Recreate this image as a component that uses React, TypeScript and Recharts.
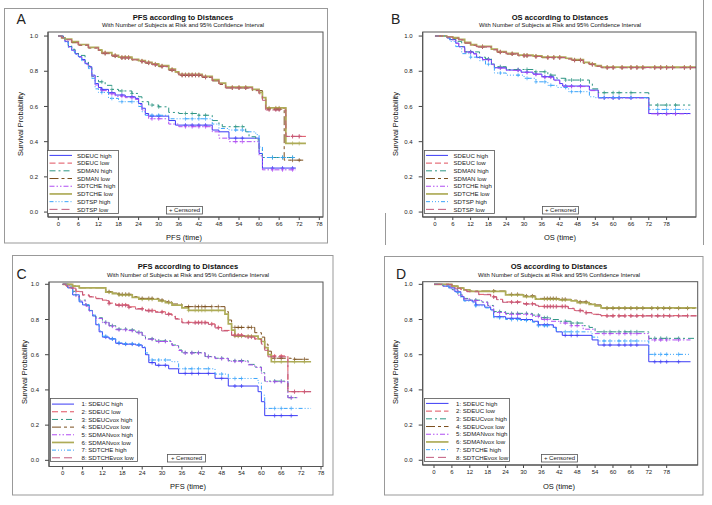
import React from "react";
import { LineChart, Line, XAxis, YAxis } from "recharts";

// ---- tick labels ----
const X_TICKS = [0, 6, 12, 18, 24, 30, 36, 42, 48, 54, 60, 66, 72, 78];
const Y_TICKS = [0, 0.2, 0.4, 0.6, 0.8, 1.0];

// ---- legend names ----
const NAMES_AB = ["SDEUC high", "SDEUC low", "SDMAN high", "SDMAN low", "SDTCHE high", "SDTCHE low", "SDTSP high", "SDTSP low"];
const NAMES_CD = ["1: SDEUC high", "2: SDEUC low", "3: SDEUCvox high", "4: SDEUCvox low", "5: SDMANvox high", "6: SDMANvox low", "7: SDTCHE high", "8: SDTCHEvox low"];

// ---- panel A (PFS) : [time, survival] steps ----
const A_EUC_HIGH = [[0,1],[1.5,0.99],[2,0.97],[3,0.94],[4,0.92],[5,0.9],[6,0.883],[7,0.867],[8,0.845],[9,0.826],[10,0.778],[11,0.73],[12,0.708],[13,0.697],[15,0.678],[17,0.665],[20,0.655],[23,0.646],[24,0.617],[25,0.59],[26,0.56],[27,0.545],[33,0.52],[35,0.494],[46,0.466],[48,0.456],[51,0.42],[60,0.333],[61,0.25],[71,0.25]];
const A_EUC_LOW = [[0,1],[1,0.99],[2,0.98],[4,0.965],[6,0.95],[9,0.935],[12,0.92],[13,0.905],[16,0.89],[18,0.879],[22,0.867],[24,0.858],[26,0.85],[28,0.84],[30,0.83],[33,0.81],[35,0.795],[36,0.78],[43,0.769],[46,0.75],[48,0.73],[50,0.708],[58,0.695],[60,0.675],[61,0.64],[62,0.589],[68,0.43],[74,0.43]];
const A_MAN_HIGH = [[0,1],[1.5,0.99],[2,0.97],[3,0.945],[4,0.925],[5,0.905],[6,0.89],[8,0.855],[9,0.83],[10,0.77],[12,0.74],[14,0.72],[16,0.697],[18,0.688],[22,0.674],[24,0.655],[25,0.627],[27,0.608],[30,0.598],[33,0.566],[36,0.56],[42,0.55],[46,0.52],[48,0.5],[49,0.485],[56,0.456],[57,0.428],[59,0.41],[60,0.36],[61,0.31],[71,0.31]];
const A_MAN_LOW = [[0,1],[1,0.99],[2,0.98],[4,0.962],[6,0.948],[9,0.932],[12,0.918],[13,0.9],[16,0.886],[18,0.876],[22,0.864],[24,0.855],[26,0.846],[28,0.836],[30,0.826],[33,0.806],[35,0.79],[36,0.776],[43,0.765],[46,0.745],[48,0.725],[50,0.705],[58,0.69],[61,0.645],[62,0.585],[67.5,0.295],[74,0.295]];
const A_TCHE_HIGH = [[0,1],[1.5,0.99],[2,0.968],[3,0.938],[4,0.918],[5,0.898],[6,0.88],[7,0.862],[8,0.84],[9,0.82],[10,0.772],[11,0.722],[12,0.7],[13,0.69],[15,0.672],[17,0.658],[20,0.65],[23,0.64],[24,0.61],[25,0.58],[26,0.55],[27,0.53],[33,0.5],[36,0.485],[46,0.456],[48,0.42],[51,0.4],[60,0.32],[61,0.24],[71,0.24]];
const A_TCHE_LOW = [[0,1],[1,0.99],[2,0.982],[4,0.968],[6,0.952],[9,0.936],[12,0.921],[13,0.906],[16,0.891],[18,0.88],[22,0.868],[24,0.86],[26,0.851],[28,0.842],[30,0.832],[33,0.812],[35,0.797],[36,0.782],[43,0.771],[46,0.752],[48,0.732],[50,0.71],[58,0.697],[60,0.68],[61,0.65],[62,0.592],[68,0.39],[74,0.39]];
const A_TSP_HIGH = [[0,1],[1.5,0.99],[2,0.965],[3,0.935],[4,0.915],[5,0.895],[6,0.88],[7,0.86],[8,0.84],[9,0.815],[10,0.76],[11,0.7],[12,0.68],[15,0.646],[18,0.627],[24,0.6],[25,0.57],[26,0.55],[33,0.53],[46,0.5],[48,0.475],[51,0.466],[56,0.456],[59,0.44],[60,0.37],[61,0.31],[71,0.31]];
const A_TSP_LOW = [[0,1],[1,0.99],[2,0.979],[4,0.964],[6,0.949],[9,0.933],[12,0.919],[13,0.903],[16,0.888],[18,0.877],[22,0.865],[24,0.856],[26,0.848],[28,0.838],[30,0.828],[33,0.808],[35,0.793],[36,0.779],[43,0.767],[46,0.748],[48,0.728],[50,0.706],[58,0.692],[60,0.672],[61,0.635],[62,0.58],[68,0.43],[74,0.43]];
const A_CENS_LOW = [14,17,19,20,21,25,27,29,31,34,37,38,39,40,41,42,44,52,54,56,63,65,66,70,72];
const A_CENS_HIGH = [13,16,19,22,28,30,38,40,42,44,53,55,64,67,70];

// ---- panel B (OS) ----
const B_EUC_HIGH = [[0,1],[4,0.99],[5,0.98],[7,0.96],[8,0.94],[10,0.91],[13,0.9],[14,0.879],[16,0.867],[19,0.84],[20,0.82],[24,0.807],[29,0.795],[33,0.784],[36,0.769],[40,0.75],[42,0.73],[43,0.716],[52,0.693],[55,0.65],[72,0.56],[86,0.56]];
const B_EUC_LOW = [[0,1],[4,0.995],[6,0.99],[8,0.98],[10,0.962],[12,0.949],[14,0.94],[19,0.924],[21,0.91],[24,0.9],[28,0.89],[33,0.885],[36,0.879],[44,0.872],[46,0.864],[50,0.848],[52,0.84],[54,0.83],[56,0.822],[88,0.822]];
const B_MAN_HIGH = [[0,1],[4,0.99],[5,0.98],[7,0.97],[9,0.94],[10,0.91],[15,0.88],[17,0.87],[19,0.84],[20,0.826],[24,0.81],[33,0.797],[38,0.778],[41,0.76],[44,0.75],[52,0.73],[53,0.7],[55,0.678],[72,0.608],[86,0.608]];
const B_MAN_LOW = [[0,1],[4,0.995],[6,0.988],[8,0.978],[10,0.96],[12,0.947],[14,0.938],[19,0.922],[21,0.908],[24,0.898],[28,0.888],[33,0.883],[36,0.877],[44,0.87],[46,0.862],[50,0.846],[52,0.838],[54,0.828],[56,0.82],[88,0.82]];
const B_TCHE_HIGH = [[0,1],[4,0.99],[5,0.978],[7,0.958],[8,0.938],[10,0.908],[13,0.898],[14,0.877],[16,0.865],[19,0.838],[20,0.818],[24,0.805],[29,0.793],[33,0.782],[36,0.766],[40,0.747],[42,0.728],[43,0.713],[52,0.69],[55,0.648],[72,0.558],[86,0.558]];
const B_TCHE_LOW = [[0,1],[4,0.996],[6,0.991],[8,0.981],[10,0.964],[12,0.951],[14,0.942],[19,0.926],[21,0.912],[24,0.902],[28,0.892],[33,0.887],[36,0.881],[44,0.874],[46,0.866],[50,0.85],[52,0.842],[54,0.832],[56,0.824],[88,0.824]];
const B_TSP_HIGH = [[0,1],[4,0.99],[5,0.97],[7,0.94],[9,0.9],[12,0.88],[15,0.86],[17,0.84],[20,0.79],[24,0.778],[30,0.76],[34,0.74],[38,0.72],[41,0.708],[45,0.684],[52,0.655],[54,0.65],[72,0.583],[86,0.583]];
const B_TSP_LOW = [[0,1],[4,0.994],[6,0.989],[8,0.979],[10,0.961],[12,0.948],[14,0.939],[19,0.923],[21,0.909],[24,0.899],[28,0.889],[33,0.884],[36,0.878],[44,0.871],[46,0.863],[50,0.847],[52,0.839],[54,0.829],[56,0.821],[88,0.821]];
const B_CENS_LOW = [16,22,26,30,31,34,38,40,42,47,49,53,58,60,63,66,68,70,74,76,78,80,84,86];
const B_CENS_HIGH = [12,18,22,28,31,34,37,39,44,46,49,57,60,62,66,75,78,81];

// ---- panel C (PFS) ----
const C_1 = [[0,1],[1.5,0.98],[3,0.94],[5,0.9],[6,0.883],[8,0.85],[9,0.82],[10,0.77],[11,0.73],[12,0.7],[14,0.69],[16,0.665],[18,0.66],[22,0.655],[24,0.64],[25,0.6],[26,0.555],[28,0.54],[32,0.52],[35,0.494],[46,0.466],[50,0.422],[59,0.39],[60,0.333],[61,0.254],[71,0.254]];
const C_2 = [[0,1],[1,0.99],[2,0.98],[4,0.96],[6,0.94],[8,0.93],[10,0.92],[12,0.91],[14,0.893],[16,0.883],[20,0.872],[22,0.862],[25,0.852],[28,0.844],[31,0.832],[33,0.82],[34,0.805],[36,0.784],[44,0.775],[46,0.755],[48,0.738],[51,0.712],[55,0.703],[58,0.69],[60,0.665],[61,0.63],[62,0.593],[68,0.39],[75,0.39]];
const C_3 = [[0,1],[2,0.99],[3,0.96],[4,0.93],[5,0.91],[7,0.88],[8,0.85],[9,0.825],[10,0.81],[12,0.784],[14,0.765],[16,0.745],[20,0.74],[22,0.728],[24,0.71],[25,0.69],[28,0.678],[33,0.655],[35,0.627],[36,0.612],[43,0.59],[46,0.58],[50,0.566],[56,0.545],[58,0.53],[60,0.498],[61,0.45],[68,0.356],[71,0.356]];
const C_4 = [[0,1],[3,0.99],[5,0.98],[13,0.958],[15,0.95],[17,0.943],[21,0.93],[23,0.92],[29,0.91],[31,0.9],[33,0.888],[36,0.873],[49,0.845],[50,0.797],[51,0.755],[58,0.725],[60,0.7],[61,0.66],[62,0.62],[63,0.58],[69,0.574],[75,0.574]];
const C_5 = [[0,1],[2,0.99],[3,0.955],[4,0.928],[5,0.905],[7,0.875],[8,0.848],[9,0.822],[10,0.806],[12,0.782],[14,0.762],[16,0.742],[20,0.737],[22,0.725],[24,0.707],[25,0.688],[28,0.675],[33,0.652],[35,0.624],[36,0.61],[43,0.588],[46,0.578],[50,0.563],[56,0.542],[58,0.528],[60,0.495],[61,0.447],[68,0.356],[71,0.356]];
const C_6 = [[0,1],[3,0.99],[5,0.98],[13,0.955],[15,0.947],[17,0.94],[21,0.926],[23,0.915],[29,0.905],[31,0.895],[33,0.882],[36,0.866],[38,0.852],[49,0.83],[50,0.775],[51,0.74],[52,0.705],[59,0.69],[60,0.675],[61,0.64],[62,0.6],[63,0.56],[75,0.56]];
const C_7 = [[0,1],[1.5,0.98],[3,0.94],[5,0.9],[6,0.883],[8,0.852],[9,0.825],[10,0.775],[11,0.735],[12,0.705],[14,0.69],[16,0.668],[18,0.662],[22,0.657],[24,0.645],[25,0.61],[26,0.57],[33,0.56],[35,0.52],[46,0.49],[50,0.465],[59,0.44],[60,0.37],[61,0.295],[75,0.295]];
const C_8 = [[0,1],[1,0.99],[2,0.978],[4,0.958],[6,0.938],[8,0.928],[10,0.918],[12,0.907],[14,0.89],[16,0.88],[20,0.869],[22,0.859],[25,0.849],[28,0.841],[31,0.829],[33,0.817],[34,0.802],[36,0.781],[44,0.772],[46,0.752],[48,0.735],[51,0.709],[55,0.7],[58,0.687],[60,0.66],[61,0.625],[62,0.588],[68,0.39],[75,0.39]];
const C_CENS_LOW = [14,17,18,19,20,24,26,27,30,32,38,40,41,42,43,45,47,52,53,54,56,57,64,66,70,73];
const C_CENS_HIGH = [13,15,17,19,21,23,27,29,31,37,39,41,44,48,52,54,64,66,69];

// ---- panel D (OS) ----
const D_1 = [[0,1],[3,0.99],[5,0.98],[7,0.958],[9,0.93],[10,0.91],[13,0.9],[14,0.883],[17,0.87],[19,0.855],[20,0.816],[24,0.807],[29,0.8],[33,0.79],[35,0.77],[40,0.756],[41,0.73],[43,0.71],[53,0.684],[55,0.655],[72,0.56],[86,0.56]];
const D_2 = [[0,1],[6,0.99],[7,0.98],[9,0.97],[11,0.96],[15,0.943],[19,0.93],[21,0.915],[23,0.9],[30,0.89],[34,0.883],[35,0.875],[45,0.864],[47,0.852],[50,0.84],[53,0.83],[56,0.822],[88,0.822]];
const D_3 = [[0,1],[3,0.99],[6,0.97],[8,0.94],[10,0.92],[12,0.91],[16,0.9],[18,0.88],[20,0.845],[24,0.835],[33,0.825],[36,0.81],[39,0.8],[42,0.79],[46,0.78],[50,0.765],[52,0.755],[54,0.73],[72,0.693],[88,0.693]];
const D_4 = [[0,1],[6,0.99],[8,0.98],[10,0.97],[12,0.962],[24,0.943],[30,0.934],[34,0.92],[42,0.915],[46,0.91],[48,0.9],[52,0.89],[54,0.883],[56,0.864],[88,0.864]];
const D_5 = [[0,1],[3,0.99],[6,0.968],[8,0.938],[10,0.918],[12,0.908],[16,0.898],[18,0.876],[20,0.84],[24,0.83],[33,0.818],[36,0.8],[39,0.79],[42,0.78],[46,0.765],[50,0.745],[54,0.72],[72,0.684],[86,0.684]];
const D_6 = [[0,1],[6,0.99],[8,0.978],[10,0.968],[12,0.96],[24,0.94],[30,0.93],[34,0.916],[42,0.912],[46,0.906],[48,0.896],[52,0.886],[54,0.878],[56,0.866],[88,0.866]];
const D_7 = [[0,1],[3,0.99],[5,0.975],[7,0.955],[9,0.925],[10,0.905],[13,0.895],[14,0.878],[17,0.866],[19,0.85],[20,0.81],[24,0.8],[29,0.795],[33,0.785],[35,0.765],[40,0.75],[41,0.73],[53,0.7],[55,0.678],[72,0.602],[86,0.602]];
const D_8 = [[0,1],[6,0.99],[7,0.978],[9,0.968],[11,0.958],[15,0.941],[19,0.928],[21,0.913],[23,0.898],[30,0.888],[34,0.881],[35,0.873],[45,0.862],[47,0.85],[50,0.838],[53,0.828],[56,0.82],[88,0.82]];
const D_CENS_LOW = [20,26,28,31,33,37,38,39,40,41,43,44,49,51,58,60,62,64,66,68,70,73,75,77,79,82,85];
const D_CENS_HIGH = [14,22,26,28,31,35,37,38,44,46,48,57,59,62,64,66,68,74,76,78,82];

// ---- line styles (SAS default group styles) ----
const STYLES = [
  { color: "#3b3bf5", dash: undefined, w: 1 },
  { color: "#e0505e", dash: "6 3", w: 1 },
  { color: "#2e9684", dash: "6 3 2 3", w: 1 },
  { color: "#7a4e1c", dash: "9 3 3 3", w: 1 },
  { color: "#b04cf2", dash: "5 2 1.5 2 1.5 2", w: 1 },
  { color: "#aeac58", dash: undefined, w: 1.7 },
  { color: "#3aa4fb", dash: "4 2 1 2 1 2 1 2", w: 1 },
  { color: "#c25a7c", dash: "8 4", w: 1 },
];

const FONT = "'Liberation Sans', Arial, sans-serif";

type Pt = { t: number; s: number; c: boolean };

function withCensor(steps: number[][], cens: number[]): Pt[] {
  const pts: Pt[] = steps.map(([t, s]) => ({ t, s, c: false }));
  const end = steps[steps.length - 1][0];
  cens.forEach((ct) => {
    if (ct >= end) return;
    let s = 1;
    for (const [t, v] of steps) if (t <= ct) s = v;
    pts.push({ t: ct, s, c: true });
  });
  return pts.sort((a, b) => a.t - b.t || (a.c ? 1 : 0) - (b.c ? 1 : 0));
}

const PANELS = [
  {
    letter: "A", qx: 0, qy: 0, qw: 356, qh: 250,
    plot: { l: 48, r: 323, t: 32, b: 217 }, xd: [-3.08, 79.1], yd: [-0.028, 1.023],
    title: "PFS according to Distances", xlabel: "PFS (time)", names: NAMES_AB,
    series: [
      withCensor(A_EUC_HIGH, A_CENS_HIGH), withCensor(A_EUC_LOW, A_CENS_LOW),
      withCensor(A_MAN_HIGH, A_CENS_HIGH), withCensor(A_MAN_LOW, A_CENS_LOW),
      withCensor(A_TCHE_HIGH, A_CENS_HIGH), withCensor(A_TCHE_LOW, A_CENS_LOW),
      withCensor(A_TSP_HIGH, A_CENS_HIGH), withCensor(A_TSP_LOW, A_CENS_LOW),
    ],
    lt: { x: 16.5, y: 23.5 }, tx: 183, ty: 20, sy: 27.2, yl: { x: 22.5, y: 124 }, xl: { x: 184, y: 240 },
    leg: { x: 47, y: 150, w: 71, h: 63, l1: 49.5, l2: 72, tx: 77, ty: 157.6, dy: 7.71 },
    cb: { x: 166, y: 206, w: 36, h: 7.5 },
  },
  {
    letter: "B", qx: 356, qy: 0, qw: 356, qh: 250,
    plot: { l: 422.7, r: 696, t: 32, b: 217 }, xd: [-4.14, 87.9], yd: [-0.028, 1.023],
    title: "OS according to Distances", xlabel: "OS (time)", names: NAMES_AB,
    series: [
      withCensor(B_EUC_HIGH, B_CENS_HIGH), withCensor(B_EUC_LOW, B_CENS_LOW),
      withCensor(B_MAN_HIGH, B_CENS_HIGH), withCensor(B_MAN_LOW, B_CENS_LOW),
      withCensor(B_TCHE_HIGH, B_CENS_HIGH), withCensor(B_TCHE_LOW, B_CENS_LOW),
      withCensor(B_TSP_HIGH, B_CENS_HIGH), withCensor(B_TSP_LOW, B_CENS_LOW),
    ],
    lt: { x: 391, y: 23.5 }, tx: 560, ty: 20, sy: 27.2, yl: { x: 397.5, y: 124 }, xl: { x: 560, y: 240 },
    leg: { x: 424, y: 150, w: 70, h: 63, l1: 426, l2: 448, tx: 453.5, ty: 157.6, dy: 7.71 },
    cb: { x: 542, y: 206, w: 36, h: 7.5 },
  },
  {
    letter: "C", qx: 0, qy: 250, qw: 356, qh: 255,
    plot: { l: 49, r: 323, t: 282, b: 466.5 }, xd: [-4.14, 78.6], yd: [-0.035, 1.013],
    title: "PFS according to Distances", xlabel: "PFS (time)", names: NAMES_CD,
    series: [
      withCensor(C_1, C_CENS_HIGH), withCensor(C_2, C_CENS_LOW),
      withCensor(C_3, C_CENS_HIGH), withCensor(C_4, C_CENS_LOW),
      withCensor(C_5, C_CENS_HIGH), withCensor(C_6, C_CENS_LOW),
      withCensor(C_7, C_CENS_HIGH), withCensor(C_8, C_CENS_LOW),
    ],
    lt: { x: 16.5, y: 278.5 }, tx: 188, ty: 269, sy: 276.5, yl: { x: 26.5, y: 372 }, xl: { x: 188, y: 489 },
    leg: { x: 50, y: 398, w: 87, h: 63, l1: 52, l2: 74, tx: 81.5, ty: 406.3, dy: 7.67 },
    cb: { x: 167, y: 454, w: 38, h: 7.5 },
  },
  {
    letter: "D", qx: 356, qy: 250, qw: 356, qh: 255,
    plot: { l: 422.7, r: 697.7, t: 281.7, b: 465 }, xd: [-3.79, 88.4], yd: [-0.027, 1.015],
    title: "OS according to Distances", xlabel: "OS (time)", names: NAMES_CD,
    series: [
      withCensor(D_1, D_CENS_HIGH), withCensor(D_2, D_CENS_LOW),
      withCensor(D_3, D_CENS_HIGH), withCensor(D_4, D_CENS_LOW),
      withCensor(D_5, D_CENS_HIGH), withCensor(D_6, D_CENS_LOW),
      withCensor(D_7, D_CENS_HIGH), withCensor(D_8, D_CENS_LOW),
    ],
    lt: { x: 396, y: 278.5 }, tx: 559, ty: 269, sy: 276.5, yl: { x: 397.5, y: 372 }, xl: { x: 559, y: 489 },
    leg: { x: 424, y: 398, w: 85, h: 63, l1: 426, l2: 448.5, tx: 456, ty: 405.6, dy: 7.71 },
    cb: { x: 541, y: 454, w: 36, h: 7.5 },
  },
];

const YW = 30;
const XH = 20;

function censorDot(color: string) {
  return (p: any) => {
    const { cx, cy, payload, index } = p;
    if (!payload || !payload.c || cx == null || cy == null) return <g key={`n${index}`} />;
    return (
      <path key={`c${index}`} d={`M${cx - 1.8},${cy}h3.6M${cx},${cy - 2}v4`} stroke={color} strokeWidth={0.7} fill="none" />
    );
  };
}

function Panel({ cfg }: { cfg: (typeof PANELS)[number] }) {
  const p = cfg.plot;
  const margin = {
    top: p.t - cfg.qy,
    right: cfg.qx + cfg.qw - p.r,
    bottom: cfg.qy + cfg.qh - p.b - XH,
    left: p.l - cfg.qx - YW,
  };
  const tickStyle = { fontSize: 6, fill: "#222", fontFamily: FONT };
  return (
    <div style={{ position: "absolute", left: cfg.qx, top: cfg.qy, width: cfg.qw, height: cfg.qh }}>
      <LineChart width={cfg.qw} height={cfg.qh} margin={margin}>
        <XAxis
          type="number"
          dataKey="t"
          domain={cfg.xd}
          allowDataOverflow
          ticks={X_TICKS}
          interval={0}
          height={XH}
          tick={tickStyle}
          tickSize={3}
          tickMargin={1.5}
          stroke="#444"
        />
        <YAxis
          type="number"
          dataKey="s"
          domain={cfg.yd}
          allowDataOverflow
          ticks={Y_TICKS}
          interval={0}
          width={YW}
          tick={tickStyle}
          tickSize={4}
          tickMargin={6}
          tickFormatter={(v: number) => v.toFixed(1)}
          stroke="#444"
        />
        {cfg.series.map((data, i) => (
          <Line
            key={i}
            data={data}
            dataKey="s"
            type="stepAfter"
            stroke={STYLES[i].color}
            strokeWidth={STYLES[i].w}
            strokeDasharray={STYLES[i].dash}
            dot={censorDot(STYLES[i].color)}
            activeDot={false}
            isAnimationActive={false}
          />
        ))}
      </LineChart>
    </div>
  );
}

function Overlay() {
  return (
    <svg width={712} height={505} style={{ position: "absolute", left: 0, top: 0, pointerEvents: "none" }} fontFamily={FONT}>
      {/* panel frames */}
      <rect x={4.5} y={8.5} width={323} height={234.5} fill="none" stroke="#999" strokeWidth={1} />
      <line x1={703.5} y1={0} x2={703.5} y2={245} stroke="#999" />
      <line x1={385.5} y1={213} x2={385.5} y2={245} stroke="#999" />
      <rect x={12.5} y={255.5} width={320.5} height={239.5} fill="none" stroke="#999" strokeWidth={1} />
      <rect x={384.5} y={256.5} width={318.5} height={238.5} fill="none" stroke="#999" strokeWidth={1} />
      {PANELS.map((cfg) => {
        const p = cfg.plot;
        const L = cfg.leg;
        return (
          <g key={cfg.letter}>
            <rect x={p.l} y={p.t} width={p.r - p.l} height={p.b - p.t} fill="none" stroke="#555" strokeWidth={1} />
            <text x={cfg.lt.x} y={cfg.lt.y} fontSize={14} fill="#222">{cfg.letter}</text>
            <text x={cfg.tx} y={cfg.ty} fontSize={7.6} fontWeight="bold" textAnchor="middle" fill="#111">{cfg.title}</text>
            <text x={cfg.tx} y={cfg.sy} fontSize={5.9} textAnchor="middle" fill="#111">
              With Number of Subjects at Risk and 95% Confidence Interval
            </text>
            <text x={cfg.yl.x} y={cfg.yl.y} fontSize={7.5} textAnchor="middle" fill="#111" transform={`rotate(-90 ${cfg.yl.x} ${cfg.yl.y})`}>
              Survival Probability
            </text>
            <text x={cfg.xl.x} y={cfg.xl.y} fontSize={7.5} textAnchor="middle" fill="#111">{cfg.xlabel}</text>
            <rect x={L.x + 0.5} y={L.y + 0.5} width={L.w} height={L.h} fill="#fff" stroke="#555" strokeWidth={0.8} />
            {cfg.names.map((n, i) => {
              const yy = L.ty + i * L.dy;
              return (
                <g key={n}>
                  <line x1={L.l1} x2={L.l2} y1={yy - 2.2} y2={yy - 2.2} stroke={STYLES[i].color} strokeWidth={STYLES[i].w} strokeDasharray={STYLES[i].dash} />
                  <text x={L.tx} y={yy} fontSize={6.1} fill="#222">{n}</text>
                </g>
              );
            })}
            <rect x={cfg.cb.x + 0.5} y={cfg.cb.y + 0.5} width={cfg.cb.w} height={cfg.cb.h} fill="#fff" stroke="#555" strokeWidth={0.8} />
            <text x={cfg.cb.x + cfg.cb.w / 2 + 0.5} y={cfg.cb.y + cfg.cb.h - 1.3} fontSize={6} textAnchor="middle" fill="#222">+ Censored</text>
          </g>
        );
      })}
    </svg>
  );
}

export default function App() {
  return (
    <div style={{ position: "absolute", left: 0, top: 0, width: 712, height: 505, background: "#fff", overflow: "hidden" }}>
      {PANELS.map((cfg) => (
        <Panel key={cfg.letter} cfg={cfg} />
      ))}
      <Overlay />
    </div>
  );
}
